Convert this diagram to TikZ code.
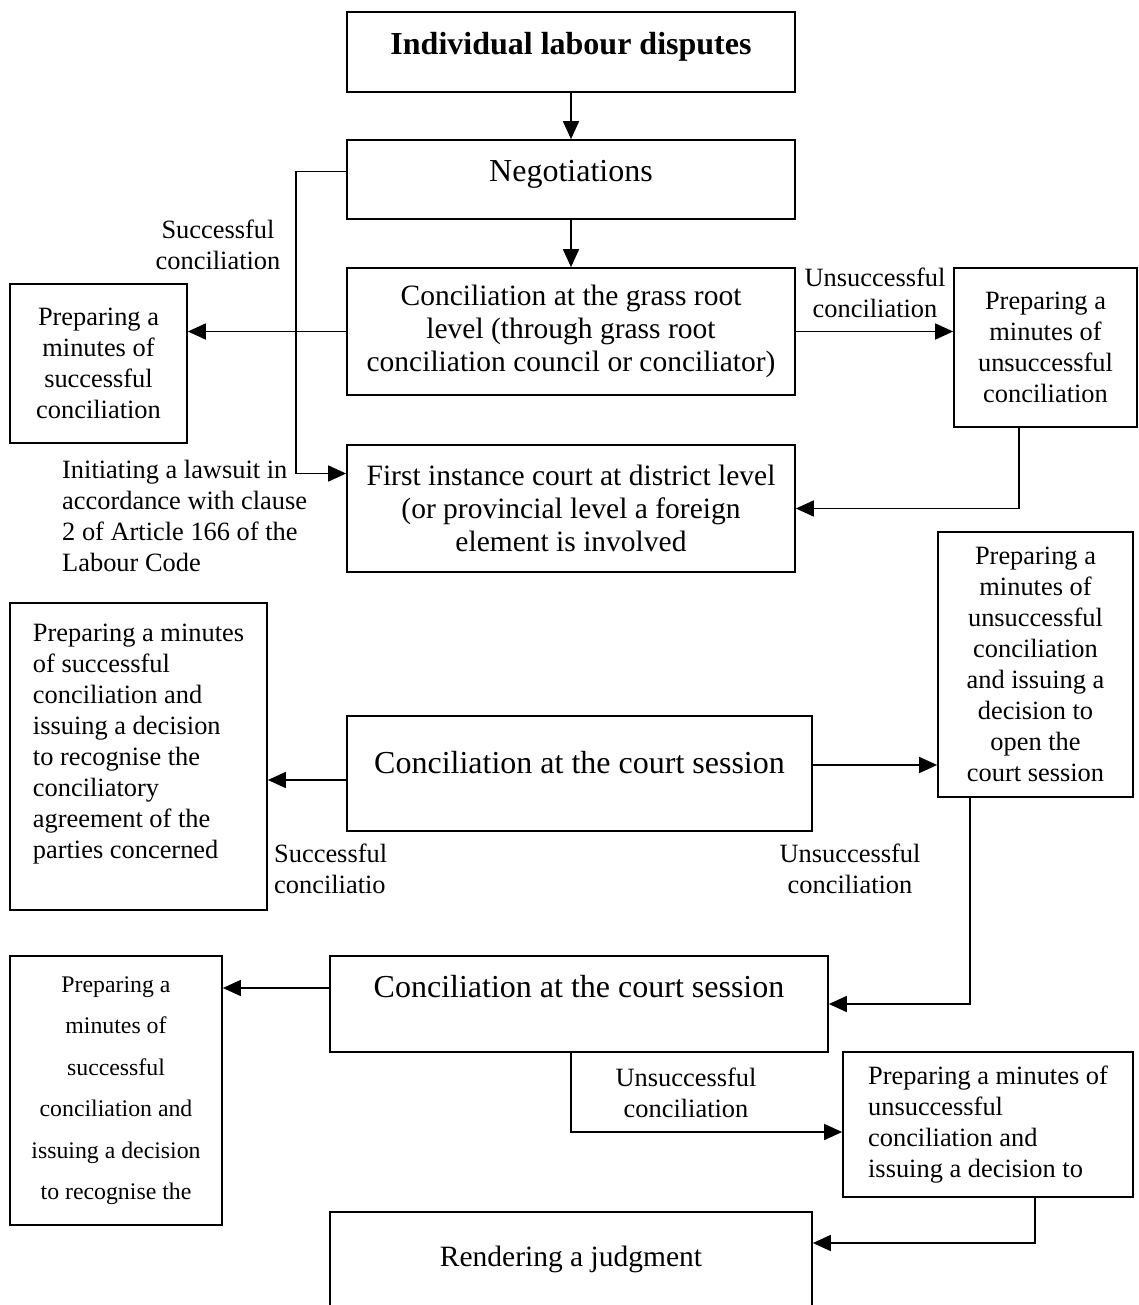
\documentclass[tikz,border=0pt]{standalone}
\usepackage{fontspec}
\setmainfont{Liberation Serif}
\usetikzlibrary{arrows.meta}

\begin{document}
\begin{tikzpicture}[x=1pt, y=-1pt, >={Triangle[length=18pt,width=16pt]},
  box/.style={draw, line width=1.7pt, inner sep=0pt, align=center,
    font=\fontsize{26.4}{31}\selectfont},
  bigbox/.style={box, font=\fontsize{29.5}{33}\selectfont},
  headbox/.style={box, font=\fontsize{32}{36}\selectfont},
  line/.style={line width=1.6pt},
  lbl/.style={inner sep=0pt, align=center, font=\fontsize{26.4}{31}\selectfont}]
  \useasboundingbox (0,0) rectangle (1138,1305);

  % Upper part: disputes, negotiations, grass root conciliation
  \node[headbox, font=\fontsize{32}{36}\selectfont\bfseries, minimum width=448pt, text height=43pt, text depth=37pt] (disputes) at (571,52) {Individual labour disputes};
  \node[headbox, minimum width=448pt, text height=41.5pt, text depth=37.5pt] (negot) at (571,179.5) {Negotiations};
  \node[bigbox, minimum width=448pt, minimum height=127pt] (grass) at (571,331.5) {Conciliation at the grass root\\level (through grass root\\conciliation council or conciliator)};
  \node[box, minimum width=177pt, minimum height=159pt] (succmin) at (98.5,363.5) {Preparing a\\minutes of\\successful\\conciliation};
  \node[box, minimum width=183pt, minimum height=159pt] (unsuccmin) at (1045.5,347.5) {Preparing a\\minutes of\\unsuccessful\\conciliation};
  \node[bigbox, minimum width=448pt, minimum height=127pt] (firstinst) at (571,508.5) {First instance court at district level\\(or provincial level a foreign\\element is involved};
  \node[lbl] (succlbl) at (218,245) {Successful\\conciliation};
  \node[lbl] (unsucclbl) at (875,293) {Unsuccessful\\conciliation};
  \node[lbl, align=left, anchor=west] (lawlbl) at (62,515.5) {Initiating a lawsuit in\\accordance with clause\\2 of Article 166 of the\\Labour Code};

  \draw[line,->] (disputes) -- (negot);
  \draw[line,->] (negot) -- (grass);
  \draw[line,->] (grass.west) -- (grass.west -| succmin.east);
  \draw[line,->] (grass.east) -- (grass.east -| unsuccmin.west);
  \draw[line,->] ([yshift=8pt]negot.west) -- ++(-50,0) |- ([yshift=35pt]firstinst.west);
  \draw[line,->] ([xshift=-26.5pt]unsuccmin.south) |- (firstinst.east);

  % Conciliation at the court session
  \node[headbox, minimum width=465pt, text height=57.5pt, text depth=57.5pt] (court) at (579.5,773.5) {Conciliation at the court session};
  \node[box, align=left, minimum width=257pt, minimum height=307pt] (recog) at (138.5,756.5) {Preparing a minutes\\of successful\\conciliation and\\issuing a decision\\to recognise the\\conciliatory\\agreement of the\\parties concerned\\ \mbox{}};
  \node[box, minimum width=195pt, minimum height=265pt] (openmin) at (1035.5,664.5) {Preparing a\\minutes of\\unsuccessful\\conciliation\\and issuing a\\decision to\\open the\\court session};
  \node[lbl, align=left, anchor=west] (succlblb) at (274,868.5) {Successful\\conciliatio};
  \node[lbl] (unsucclblb) at (850,868.5) {Unsuccessful\\conciliation};

  \draw[line,->] ([yshift=-6.5pt]court.west) -- ([yshift=-6.5pt]court.west -| recog.east);
  \draw[line,->] ([yshift=8.5pt]court.east) -- ([yshift=8.5pt]court.east -| openmin.west);

  % Second session and judgment
  \node[headbox, minimum width=498pt, text height=41.5pt, text depth=54.5pt] (courtb) at (579,1004) {Conciliation at the court session};
  \node[box, font=\fontsize{23.8}{41.5}\selectfont, minimum width=212pt, minimum height=269pt] (recogb) at (116,1090.5) {Preparing a\\minutes of\\successful\\conciliation and\\issuing a decision\\to recognise the};
  \node[box, align=left, minimum width=290pt, minimum height=145pt] (judgmin) at (988,1124.5) {Preparing a minutes of\\unsuccessful\\conciliation and\\issuing a decision to};
  \node[bigbox, minimum width=482pt, text height=54.5pt, text depth=63.5pt] (judgment) at (571,1271) {Rendering a judgment};
  \node[lbl] (unsucclblc) at (686,1093) {Unsuccessful\\conciliation};

  \draw[line,->] ([xshift=-65.5pt]openmin.south) |- (courtb.east);
  \draw[line,->] ([yshift=16pt]courtb.west) -- ([yshift=16pt]courtb.west -| recogb.east);
  \draw[line,->] ([xshift=-8pt]courtb.south) |- ([yshift=-7.5pt]judgmin.west);
  \draw[line,->] ([xshift=47pt]judgmin.south) |- ([yshift=28pt]judgment.east);
\end{tikzpicture}
\end{document}
